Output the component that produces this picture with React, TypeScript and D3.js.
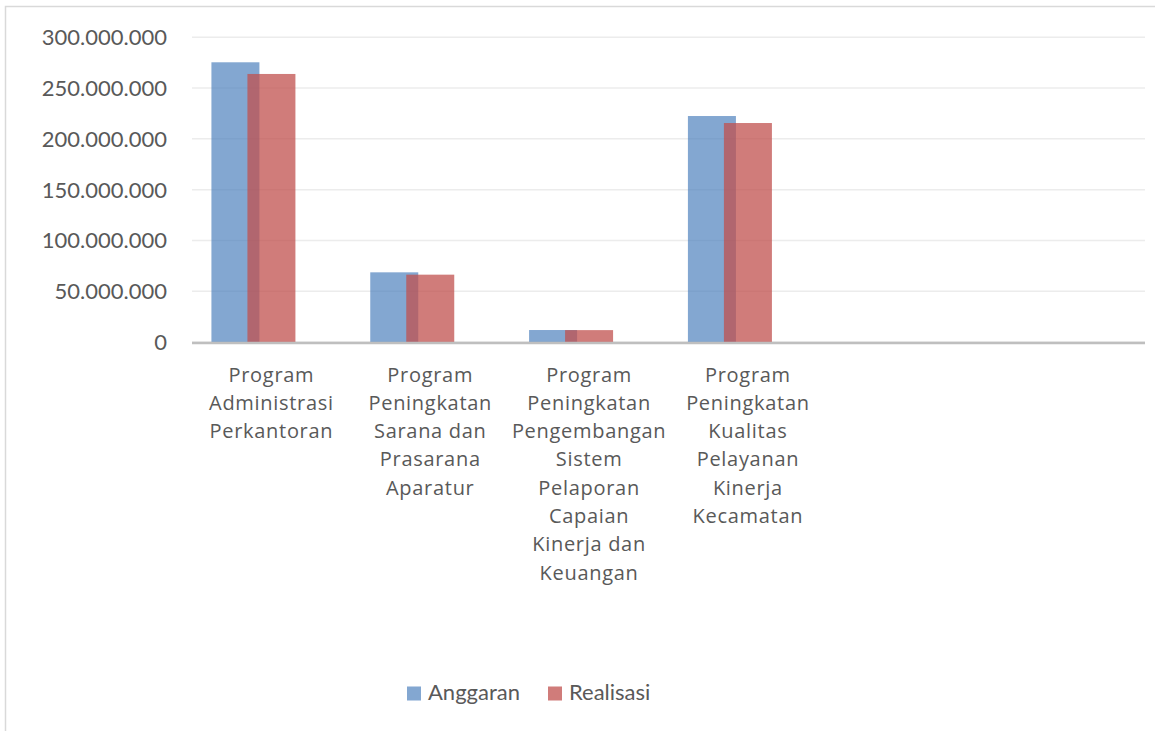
import React from "react";
import * as d3 from "d3";

// categories (last two slots are empty in the source chart)
const categories = [
  ["Program", "Administrasi", "Perkantoran"],
  ["Program", "Peningkatan", "Sarana dan", "Prasarana", "Aparatur"],
  ["Program", "Peningkatan", "Pengembangan", "Sistem", "Pelaporan", "Capaian", "Kinerja dan", "Keuangan"],
  ["Program", "Peningkatan", "Kualitas", "Pelayanan", "Kinerja", "Kecamatan"],
  [],
  [],
];
const anggaran = [275400000, 68600000, 11800000, 222500000, null, null];
const realisasi = [263900000, 66300000, 11700000, 215600000, null, null];
const seriesNames = ["Anggaran", "Realisasi"];
const seriesColors = ["#4f81bd", "#c0504d"];
const seriesOpacity = [0.7, 0.75];
const yTicks = [0, 50000000, 100000000, 150000000, 200000000, 250000000, 300000000];

const W = 1155;
const H = 731;
const plotLeft = 192;
const plotRight = 1145;
const plotTop = 37.3;
const plotBottom = 342;

const fmt = (v: number) => d3.format(",")(v).replace(/,/g, ".");

export default function App() {
  const x = d3
    .scaleBand<number>()
    .domain(categories.map((_, i) => i))
    .range([plotLeft, plotRight]);
  const y = d3.scaleLinear().domain([0, 300000000]).range([plotBottom, plotTop]);

  // Excel-style group: 3 slots (third is empty), 25% overlap
  const barW = 48;
  const step = 36;
  const groupW = barW + 2 * step;

  const series = [anggaran, realisasi];

  return (
    <svg
      width={W}
      height={H}
      style={{ position: "absolute", left: 0, top: 0, background: "#fff" }}
    >
      <rect x={5.5} y={6.5} width={W} height={H} fill="#fff" stroke="#d9d9d9" strokeWidth={1.5} />

      {/* gridlines */}
      {yTicks.map((t) => (
        <line
          key={t}
          x1={plotLeft}
          x2={plotRight}
          y1={y(t)}
          y2={y(t)}
          stroke="#ececec"
          strokeWidth={1.5}
        />
      ))}

      {/* y tick labels */}
      {yTicks.map((t) => (
        <text
          key={"l" + t}
          x={167}
          y={y(t)}
          dy="0.36em"
          textAnchor="end"
          fontFamily="Lato"
          fontSize={22}
          fill="#595959"
        >
          {fmt(t)}
        </text>
      ))}

      {/* bars */}
      {series.map((vals, si) =>
        vals.map((v, ci) => {
          if (v == null) return null;
          const x0 = (x(ci) as number) + x.bandwidth() / 2 - groupW / 2 + si * step;
          return (
            <rect
              key={si + "-" + ci}
              x={x0}
              y={y(v)}
              width={barW}
              height={plotBottom - y(v)}
              fill={seriesColors[si]}
              fillOpacity={seriesOpacity[si]}
            />
          );
        })
      )}

      {/* baseline */}
      <line x1={plotLeft} x2={plotRight} y1={plotBottom + 1} y2={plotBottom + 1} stroke="#bfbfbf" strokeWidth={2.5} />

      {/* category labels */}
      {categories.map((lines, ci) => (
        <text
          key={"c" + ci}
          textAnchor="middle"
          fontFamily="Open Sans"
          fontSize={20}
          letterSpacing={0.7}
          fill="#595959"
        >
          {lines.map((ln, li) => (
            <tspan key={li} x={(x(ci) as number) + x.bandwidth() / 2} y={381.5 + li * 28.3}>
              {ln}
            </tspan>
          ))}
        </text>
      ))}

      {/* legend */}
      {seriesNames.map((n, i) => {
        const lx = [407, 548][i];
        return (
          <g key={n}>
            <rect
              x={lx}
              y={686.5}
              width={14}
              height={14}
              fill={seriesColors[i]}
              fillOpacity={seriesOpacity[i]}
            />
            <text x={lx + 21} y={699.5} fontFamily="Lato" fontSize={22} fill="#595959">
              {n}
            </text>
          </g>
        );
      })}
    </svg>
  );
}
